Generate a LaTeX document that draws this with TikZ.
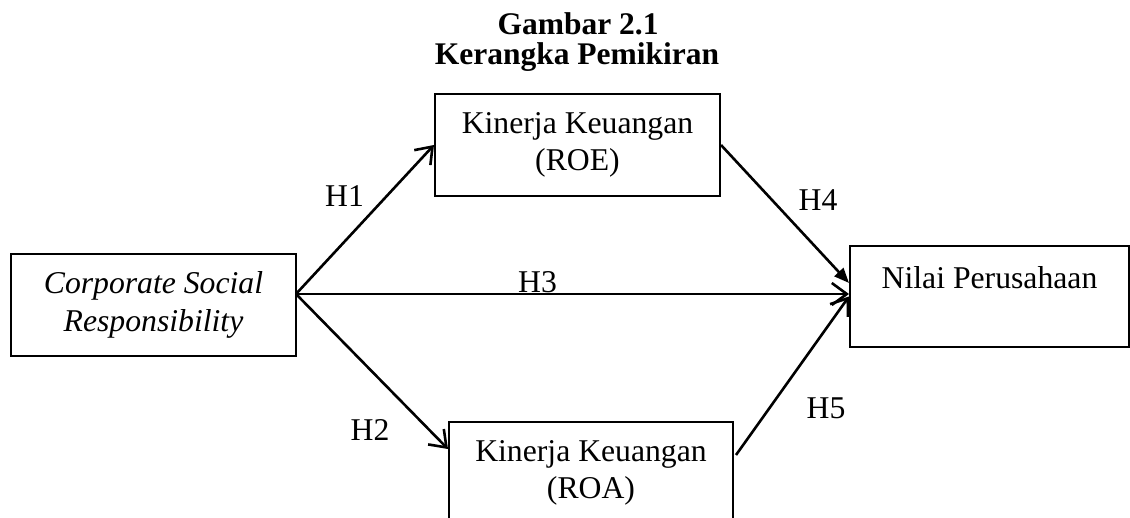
\documentclass[tikz,border=0pt]{standalone}
\usepackage{fontspec}
\setmainfont{Liberation Serif}
\usetikzlibrary{arrows.meta,calc}
\begin{document}
\begin{tikzpicture}[x=1pt,y=-1pt,
  box/.style={draw,line width=2pt,inner sep=0pt,align=center,minimum height=102pt,font=\fontsize{31.7}{37}\selectfont},
  arr/.style={line width=2.6pt,-{Straight Barb[length=15pt,width=22pt,line width=2.6pt]}},
  arrf/.style={line width=2.6pt,-{Triangle[length=15pt,width=12pt]}},
  lab/.style={anchor=base,inner sep=0pt,font=\fontsize{31.7}{37}\selectfont},
  ttl/.style={anchor=base,inner sep=0pt,font=\fontsize{31.5}{30}\selectfont\bfseries}]
\clip (0,0) rectangle (1130,518);
\node[ttl] (t1) at (578,35) {Gambar 2.1};
\node[ttl] (t2) at (577,65) {Kerangka Pemikiran};
\node[box,minimum width=285pt,font=\fontsize{31.7}{38}\selectfont\itshape] (csr) at (153.5,305) {Corporate Social\\Responsibility};
\node[box,minimum width=285pt] (roe) at (577.5,145) {Kinerja Keuangan\\(ROE)};
\node[box,minimum width=284pt] (roa) at (591,473) {Kinerja Keuangan\\(ROA)};
\node[box,minimum width=279pt,minimum height=101pt] (nilai) at (989.5,296.5) {Nilai Perusahaan\\\mbox{}};
\coordinate (o) at (296,294);
\draw[arr] (o) -- (roe.west);
\draw[arr] (o) -- ($(roa.north west)+(0,28)$);
\draw[arr] (o) -- (o -| nilai.west);
\draw[arrf] (roe.east) -- ($(nilai.west)+(0,-13.5)$);
\draw[arr] ($(roa.north east)+(2,34)$) -- (nilai.west);
\node[lab] (h1) at (344.5,207) {H1};
\node[lab] (h2) at (370,440) {H2};
\node[lab] (h3) at (537.5,293) {H3};
\node[lab] (h4) at (818,211) {H4};
\node[lab] (h5) at (826,419) {H5};
\end{tikzpicture}
\end{document}
